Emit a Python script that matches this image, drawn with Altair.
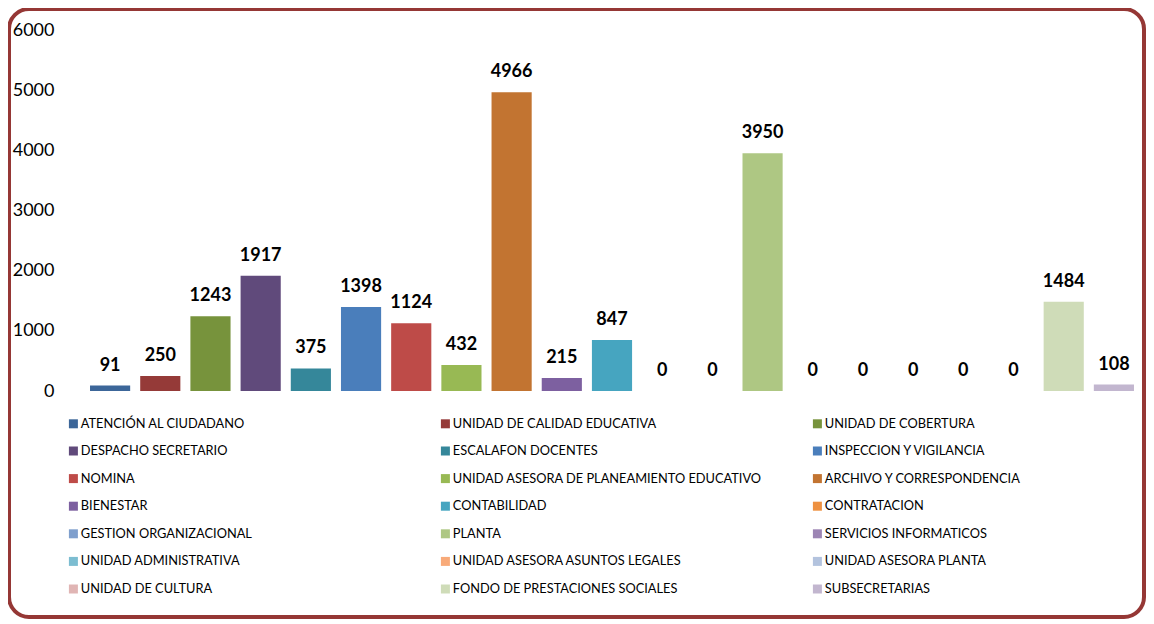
import altair as alt
import pandas as pd

categories = [
    "ATENCIÓN AL CIUDADANO", "UNIDAD DE CALIDAD EDUCATIVA", "UNIDAD DE COBERTURA",
    "DESPACHO SECRETARIO", "ESCALAFON DOCENTES", "INSPECCION Y VIGILANCIA",
    "NOMINA", "UNIDAD ASESORA DE PLANEAMIENTO EDUCATIVO", "ARCHIVO Y CORRESPONDENCIA",
    "BIENESTAR", "CONTABILIDAD", "CONTRATACION",
    "GESTION ORGANIZACIONAL", "PLANTA", "SERVICIOS INFORMATICOS",
    "UNIDAD ADMINISTRATIVA", "UNIDAD ASESORA ASUNTOS LEGALES", "UNIDAD ASESORA PLANTA",
    "UNIDAD DE CULTURA", "FONDO DE PRESTACIONES SOCIALES", "SUBSECRETARIAS",
]
values = [91, 250, 1243, 1917, 375, 1398, 1124, 432, 4966, 215, 847, 0,
          0, 3950, 0, 0, 0, 0, 0, 1484, 108]
colors = [
    "#3C6699", "#953A38", "#77933C", "#604A7B", "#35879A", "#4A7EBB",
    "#BE4B48", "#98B954", "#C27431", "#7D60A0", "#46A5C0", "#EE9141",
    "#7F9FCD", "#AEC783", "#9C85B4", "#7CBDD1", "#F8AA79", "#B3C3DE",
    "#E0B5B4", "#CFDCB8", "#C2B6CF",
]
y_ticks = [0, 1000, 2000, 3000, 4000, 5000, 6000]

df = pd.DataFrame({"cat": categories, "val": values})
frame_df = pd.DataFrame({"f": [0]})

x_enc = alt.X("cat:N", sort=categories, axis=None,
              scale=alt.Scale(paddingInner=0.2, paddingOuter=0.1))
y_enc = alt.Y("val:Q", scale=alt.Scale(domain=[0, 6000], nice=False),
              axis=alt.Axis(values=y_ticks, format="d", title=None, domain=False,
                            ticks=False, tickSize=0, grid=False, labelPadding=31,
                            labelFont="Lato", labelFontSize=18, labelColor="#000000"))

bars = alt.Chart(df).mark_bar().encode(
    x=x_enc,
    y=y_enc,
    color=alt.Color("cat:N", sort=categories,
                    scale=alt.Scale(domain=categories, range=colors),
                    title=None,
                    legend=alt.Legend(orient="none", legendX=-18, legendY=387,
                                      direction="horizontal", columns=3,
                                      gridAlign="all", columnPadding=49,
                                      rowPadding=13.6, symbolType="square",
                                      symbolSize=81, symbolStrokeWidth=0,
                                      labelFont="Lato", labelFontSize=12.8,
                                      labelColor="#000000", labelOffset=1,
                                      labelLimit=400, padding=0)),
)

labels = alt.Chart(df).mark_text(
    font="Lato", fontSize=18, fontWeight="bold", color="#000000",
    baseline="alphabetic", align="center", dy=-15,
).encode(x=x_enc, y=alt.Y("val:Q"), text=alt.Text("val:Q"))

frame = alt.Chart(frame_df).mark_rect(
    fillOpacity=0, stroke="#953735", strokeWidth=4, cornerRadius=20,
).encode(x=alt.value(-76), x2=alt.value(1059), y=alt.value(-21), y2=alt.value(587))

chart = alt.layer(bars, labels, frame).properties(
    width=1054, height=361,
    autosize=alt.AutoSizeParams(type="none"),
    padding={"left": 77, "top": 22, "right": 7, "bottom": 229},
    background="#FFFFFF",
).configure_view(strokeWidth=0)

chart.save("out.html", embed_options={"renderer": "svg", "actions": False})
